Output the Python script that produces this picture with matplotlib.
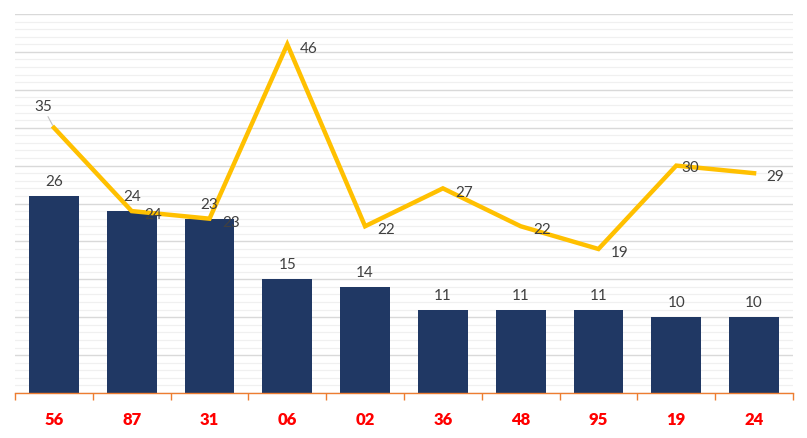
import matplotlib
matplotlib.use("Agg")
import matplotlib.pyplot as plt
from matplotlib.ticker import MultipleLocator

categories = ["56", "87", "31", "06", "02", "36", "48", "95", "19", "24"]
bar_values = [26, 24, 23, 15, 14, 11, 11, 11, 10, 10]
line_values = [35, 24, 23, 46, 22, 27, 22, 19, 30, 29]

plt.rcParams['font.family'] = ['Lato', 'DejaVu Sans']

fig = plt.figure(figsize=(8.07, 4.38), dpi=100)
ax = fig.add_axes([0.0186, 0.1027, 0.9640, 0.8653])

x = list(range(len(categories)))
ax.set_xlim(-0.5, len(categories) - 0.5)
ax.set_ylim(0, 50)

ax.yaxis.set_major_locator(MultipleLocator(5))
ax.yaxis.set_minor_locator(MultipleLocator(1))
ax.grid(which='major', axis='y', color='#d9d9d9', linewidth=1.0, zorder=0)
ax.grid(which='minor', axis='y', color='#f0f0f0', linewidth=0.9, zorder=0)
ax.set_axisbelow(True)
ax.tick_params(axis='y', which='both', length=0, labelleft=False)

bars = ax.bar(x, bar_values, width=0.64, color='#203864', zorder=2)
for xi, v in zip(x, bar_values):
    ax.annotate(str(v), (xi, v), xytext=(0, 5), textcoords='offset points',
                ha='center', va='bottom', fontsize=11, color='#404040', zorder=5)

ax.plot(x, line_values, color='#ffc000', linewidth=3.2, zorder=3,
        solid_joinstyle='miter')

for i, (xi, v) in enumerate(zip(x, line_values)):
    if i == 0:
        ax.annotate(str(v), (xi, v), xytext=(-8, 10), textcoords='offset points',
                    ha='center', va='bottom', fontsize=11, color='#404040', zorder=5,
                    arrowprops=dict(arrowstyle='-', color='#bfbfbf', lw=0.8,
                                    shrinkA=0, shrinkB=2))
    elif i == 8:
        ax.annotate(str(v), (xi, v), xytext=(4, -2), textcoords='offset points',
                    ha='left', va='center', fontsize=11, color='#404040', zorder=5)
    else:
        ax.annotate(str(v), (xi, v), xytext=(9, -3), textcoords='offset points',
                    ha='left', va='center', fontsize=11, color='#404040', zorder=5)

# x axis
for side in ['top', 'right', 'left']:
    ax.spines[side].set_visible(False)
ax.spines['bottom'].set_color('#ed7d31')
ax.spines['bottom'].set_linewidth(1.0)
ax.set_xticks(x)
ax.set_xticklabels(categories, fontsize=12, fontweight='heavy', color='#ff0000')
ax.tick_params(axis='x', which='major', length=0, pad=14)
ax.set_xticks([i - 0.5 for i in range(len(categories) + 1)], minor=True)
ax.tick_params(axis='x', which='minor', length=5, color='#ed7d31', width=1.0)

fig.savefig("out.png", dpi=100)
